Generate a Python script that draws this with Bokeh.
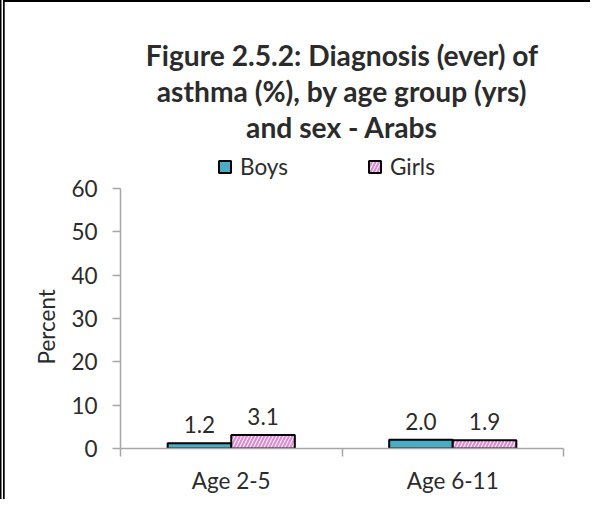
from bokeh.plotting import figure
from bokeh.models import (Range1d, FixedTicker, Label, LabelSet, ColumnDataSource,
                          Legend, LegendItem, Title)
from bokeh.core.properties import value
from bokeh.embed import file_html
from bokeh.resources import INLINE

# ---- data ----
categories = ["Age 2-5", "Age 6-11"]
series_names = ["Boys", "Girls"]
boys = [1.2, 2.0]
girls = [3.1, 1.9]
y_ticks = [0, 10, 20, 30, 40, 50, 60]
title_lines = ["Figure 2.5.2: Diagnosis (ever) of",
               "asthma (%), by age group (yrs)",
               "and sex - Arabs"]
y_label = "Percent"

# ---- style ----
FONT = "Lato"
TEXT = "#2b2b2b"
AXIS = "#a6a6a6"
FS = "22.5px"
BOYS_COLOR = "#4bacc6"
GIRLS_HATCH = "#e08ad6"

# plot geometry (pixels)
FRAME_W = 443
AXIS_H = 260           # pixel height of the 0..60 axis
FRAME_TOP_EXTRA = 168  # room above the axis top (title + legend) inside the frame
px_per_unit = AXIS_H / (y_ticks[-1] - y_ticks[0])
y_top = y_ticks[-1] + FRAME_TOP_EXTRA / px_per_unit

centers = [i + 0.5 for i in range(len(categories))]
bw = 0.287
off = bw / 2

src = ColumnDataSource(dict(
    xb=[c - off for c in centers],
    xg=[c + off for c in centers],
    boys=boys, girls=girls,
    lb=[f"{v:.1f}" for v in boys],
    lg=[f"{v:.1f}" for v in girls],
))

p = figure(frame_width=FRAME_W, frame_height=AXIS_H + FRAME_TOP_EXTRA,
           min_border_left=120, min_border_right=27,
           min_border_top=20, min_border_bottom=51,
           x_range=Range1d(0, len(categories)), y_range=Range1d(y_ticks[0], y_top),
           output_backend="svg", toolbar_location=None,
           background_fill_color="white", border_fill_color=None,
           outline_line_color=None)
p.styles = {"box-shadow": "inset 1.5px 0 0 #000, inset 3px 0 0 #fff, inset 4.7px 0 0 #000, inset 0 2px 0 #000"}

p.xgrid.visible = False
p.ygrid.visible = False

rb = p.vbar(x="xb", top="boys", width=bw, source=src, fill_color=BOYS_COLOR,
            line_color="black", line_width=2)
rg = p.vbar(x="xg", top="girls", width=bw, source=src, fill_color="white",
            line_color="black", line_width=2, hatch_pattern="/",
            hatch_color=GIRLS_HATCH, hatch_weight=2.2, hatch_scale=7)

# x axis
xa = p.xaxis[0]
xa.ticker = FixedTicker(ticks=centers, minor_ticks=list(range(len(categories) + 1)))
xa.major_label_overrides = {c: cat for c, cat in zip(centers, categories)}
xa.major_tick_out = 0
xa.major_tick_in = 0
xa.minor_tick_out = 8
xa.minor_tick_in = 0
xa.minor_tick_line_color = AXIS
xa.minor_tick_line_width = 1.5
xa.axis_line_color = AXIS
xa.axis_line_width = 1.5
xa.major_label_text_font = FONT
xa.major_label_text_font_size = FS
xa.major_label_text_color = TEXT
xa.major_label_standoff = 10

# y axis
ya = p.yaxis[0]
ya.bounds = (y_ticks[0], y_ticks[-1])
ya.ticker = FixedTicker(ticks=y_ticks, minor_ticks=[])
ya.major_tick_out = 8
ya.major_tick_in = 0
ya.minor_tick_out = 0
ya.minor_tick_in = 0
ya.major_tick_line_color = AXIS
ya.major_tick_line_width = 1.5
ya.axis_line_color = AXIS
ya.axis_line_width = 1.5
ya.major_label_text_font = FONT
ya.major_label_text_font_size = FS
ya.major_label_text_color = TEXT
ya.major_label_standoff = 15

# y axis title, anchored to the lower part of the axis
p.add_layout(Title(text=y_label, align="left", offset=84, standoff=18,
                   text_font=FONT, text_font_size=FS, text_font_style="normal",
                   text_color=TEXT), "left")

# data labels
for xcol, ycol, tcol in (("xb", "boys", "lb"), ("xg", "girls", "lg")):
    p.add_layout(LabelSet(x=xcol, y=ycol, text=tcol, source=src,
                          text_align="center", text_baseline="alphabetic",
                          y_offset=10, text_font=value(FONT),
                          text_font_size=value(FS), text_color=TEXT))

# legend
legend = Legend(items=[LegendItem(label=series_names[0], renderers=[rb]),
                       LegendItem(label=series_names[1], renderers=[rg])],
                orientation="horizontal", location=(97, 268),
                glyph_width=15, glyph_height=15, label_standoff=8, spacing=79,
                padding=0, margin=0, border_line_color=None,
                background_fill_color=None,
                label_text_font=FONT, label_text_font_size=FS,
                label_text_color=TEXT)
p.add_layout(legend)

# title lines
for line, yy in zip(title_lines, (394.0, 358.0, 321.7)):
    p.add_layout(Label(x=FRAME_W / 2, y=yy, x_units="screen", y_units="screen",
                       text=line, text_align="center", text_baseline="alphabetic",
                       text_font=FONT, text_font_style="bold",
                       text_font_size="28.2px", text_color=TEXT))

open("out.html", "w").write(file_html(p, INLINE))
